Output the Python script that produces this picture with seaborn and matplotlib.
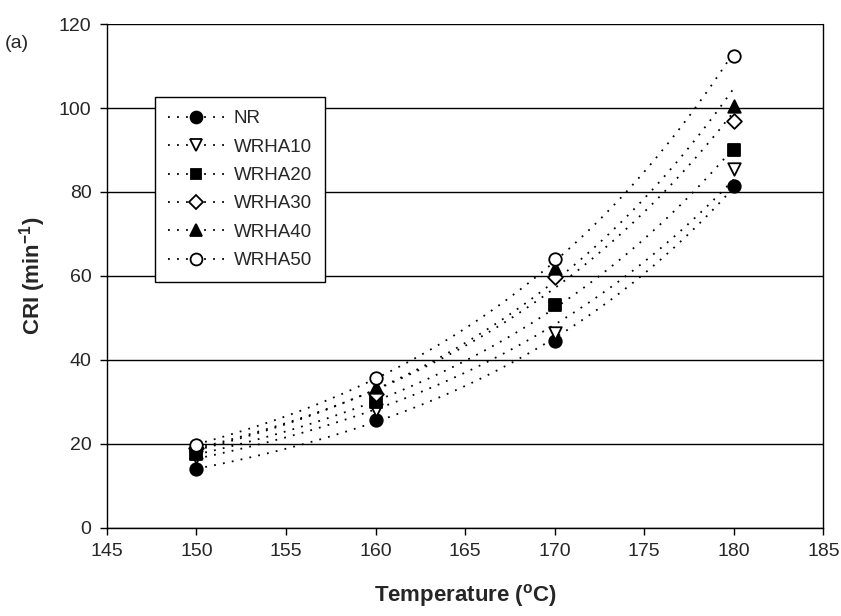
import numpy as np
import pandas as pd
import matplotlib
matplotlib.use("Agg")
import matplotlib.pyplot as plt
from matplotlib.lines import Line2D
import seaborn as sns

# Data
temps = [150, 160, 170, 180]
series_names = ["NR", "WRHA10", "WRHA20", "WRHA30", "WRHA40", "WRHA50"]
nr = [14.0, 25.7, 44.5, 81.5]
wrha10 = [16.8, 28.0, 46.5, 85.5]
wrha20 = [17.5, 30.0, 53.0, 90.0]
wrha30 = [19.0, 32.0, 59.8, 97.0]
wrha40 = [18.0, 33.5, 62.0, 100.5]
wrha50 = [19.8, 35.7, 64.0, 112.5]
values = [nr, wrha10, wrha20, wrha30, wrha40, wrha50]

markers = ["o", "v", "s", "D", "^", "o"]
filled = [True, False, True, False, True, False]
msizes = [9, 9, 8, 7.5, 9, 9]

sns.set_style("white")
plt.rcParams["font.family"] = ["Liberation Sans", "DejaVu Sans"]

fig = plt.figure(figsize=(8.41, 6.16), dpi=100)
ax = fig.add_axes([0.127, 0.143, 0.852, 0.818])

df = pd.DataFrame({
    "Temperature": np.tile(temps, len(series_names)),
    "CRI": np.concatenate(values),
    "series": np.repeat(series_names, len(temps)),
})

dots = (0, (1, 4))
handles = []
for name, mk, fl, ms in zip(series_names, markers, filled, msizes):
    sub = df[df["series"] == name]
    # exponential trendline through the points, like the original
    b, a = np.polyfit(sub["Temperature"], np.log(sub["CRI"]), 1)
    xs = np.linspace(150, 180, 200)
    ax.plot(xs, np.exp(a + b * xs), color="black", linestyle=dots, lw=1.3, zorder=2)
    sns.scatterplot(data=sub, x="Temperature", y="CRI", ax=ax, marker=mk,
                    s=ms ** 2, color="black" if fl else "white",
                    edgecolor="black", linewidth=1.3, zorder=3, legend=False)
    handles.append(Line2D([], [], color="black", linestyle=dots, lw=1.3, marker=mk,
                          markersize=ms * 0.95, markerfacecolor="black" if fl else "white",
                          markeredgecolor="black", markeredgewidth=1.3, label=name))

ax.set_xlim(145, 185)
ax.set_ylim(0, 120)
ax.set_xticks(range(145, 186, 5))
ax.set_yticks(range(0, 121, 20))
ax.yaxis.grid(True, color="black", lw=1.0)
ax.set_axisbelow(True)
for side in ["top", "right"]:
    ax.spines[side].set_visible(False)
for side in ["left", "bottom"]:
    ax.spines[side].set_color("black")
    ax.spines[side].set_linewidth(1.0)
ax.tick_params(axis="both", direction="out", length=5, width=1, color="black",
               labelsize=14, pad=6, bottom=True, left=True)
ax.plot([1, 1], [0, 1], transform=ax.transAxes, color="black", lw=1.0, clip_on=False)

ax.set_xlabel("Temperature ($\\mathregular{^oC}$)", fontsize=16, fontweight="bold", labelpad=16)
ax.set_ylabel("CRI (min$\\mathregular{^{-1}}$)", fontsize=16, fontweight="bold", labelpad=8)
fig.text(0.006, 0.922, "(a)", fontsize=14)

leg = ax.legend(handles=handles, loc="upper left", bbox_to_anchor=(0.067, 0.855),
                borderaxespad=0, frameon=True, fancybox=False, edgecolor="black",
                fontsize=13.5, handlelength=3.0, labelspacing=0.6, borderpad=0.7,
                handletextpad=0.5)
leg.get_frame().set_linewidth(1.0)
leg.get_frame().set_alpha(1)

fig.savefig("out.png", dpi=100)
